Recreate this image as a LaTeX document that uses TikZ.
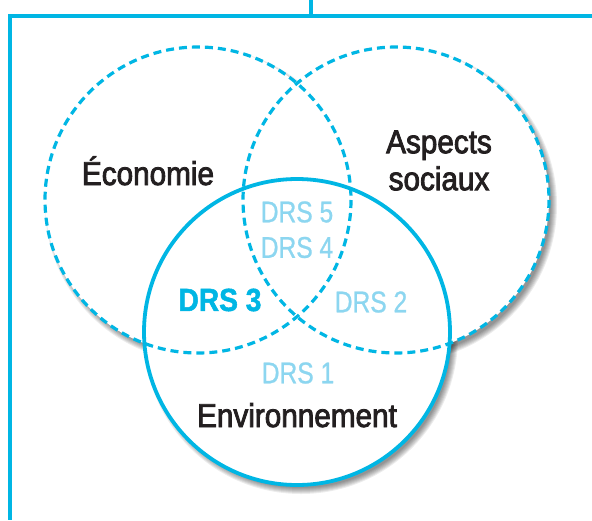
\documentclass[tikz,border=0pt]{standalone}
\usepackage{fontspec}
\usepackage{xcolor}
\usepackage{tikz}
\usetikzlibrary{math}
\usetikzlibrary{calc}

\newfontfamily\labelfont[FakeStretch=0.9,FakeBold=2.5]{Liberation Sans}
\newfontfamily\drsfont[FakeStretch=0.82,FakeBold=0.8]{Liberation Sans}
\newfontfamily\drsboldfont[FakeStretch=0.88,FakeBold=1.5]{Liberation Sans}

\definecolor{venncyan}{RGB}{0,182,228}
\definecolor{drslight}{RGB}{140,214,240}
\definecolor{labelblack}{RGB}{35,31,32}

\tikzset{
  setlabel/.style={font=\labelfont\fontsize{33}{37}\selectfont, text=labelblack, align=center, inner sep=0pt},
  drslabel/.style={font=\drsfont\fontsize{30}{34}\selectfont, text=drslight, inner sep=0pt},
  drsmain/.style={font=\drsboldfont\bfseries\fontsize{32}{36}\selectfont, text=venncyan, inner sep=0pt},
  dashedset/.style={draw=venncyan, line width=3.2pt, dash pattern=on 8pt off 5pt},
  solidset/.style={draw=venncyan, line width=3.8pt},
}

\begin{document}
\begin{tikzpicture}[x=1pt,y=-1pt,line width=3.5pt]

  \tikzmath{
    \radius = 153; % radius of the three sets
    \shiftx = 4;   % offset of the shadow
    \shifty = 5;
  }

  \useasboundingbox (0,0) rectangle (592,520);

  % Centres of the three sets
  \coordinate (eco) at (198,200);
  \coordinate (soc) at (396,200);
  \coordinate (env) at (297,332);

  % Frame round the diagram
  \coordinate (frametop) at (311,0);
  \coordinate (framejoin) at (311,16);
  \draw[venncyan] (frametop) -- (framejoin);
  \draw[venncyan] (592,16) -- (10,16) -- (10,520);

  % Soft shadows
  \foreach \c in {eco,soc,env}{
    \foreach \k in {0,...,6}
      \fill[black, opacity=0.075] ($ (\c) + (\shiftx,\shifty) $) circle ({\radius+4-\k});
  }

  % White discs
  \foreach \c in {eco,soc,env}
    \fill[white] (\c) circle (\radius);

  % Outlines
  \draw[solidset] (env) circle (\radius);
  \draw[dashedset] (eco) circle (\radius);
  \draw[dashedset] (soc) circle (\radius);

  % Names of the sets
  \node[setlabel, anchor=base] (economie) at (148,185) {Économie};
  \node[setlabel] (social) at (439,160.5) {Aspects\\sociaux};
  \node[setlabel, anchor=base] (environnement) at (297,427) {Environnement};

  % Regions
  \node[drslabel] (drs5) at (297,212) {DRS 5};
  \node[drslabel] (drs4) at (297,247.5) {DRS 4};
  \node[drsmain] (drs3) at (220,300) {DRS 3};
  \node[drslabel] (drs2) at (371,302) {DRS 2};
  \node[drslabel] (drs1) at (298,373) {DRS 1};

\end{tikzpicture}
\end{document}
